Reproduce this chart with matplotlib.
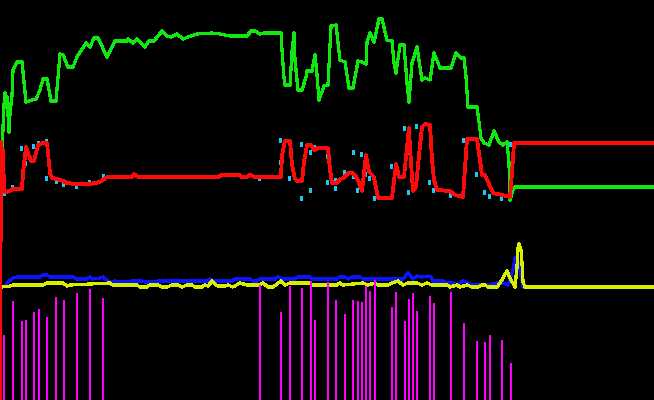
import matplotlib
matplotlib.use("Agg")
import matplotlib.pyplot as plt

# valores (eixo y invertido: 0 = topo, 400 = base)
verde_x = [2, 3, 4, 5, 6, 7, 9, 10, 12, 13, 17, 22, 26, 32, 36, 40, 43, 47, 51, 56, 60, 63, 68, 73, 77, 86, 90, 94, 98,
           107, 115, 127, 128, 133, 137, 145, 149, 154, 162, 167, 171, 177, 183, 188, 197, 212, 220, 230, 247, 251, 255,
           260, 264, 281, 282, 284, 285, 290, 292, 294, 295, 298, 302, 306, 307, 312, 315, 317, 319, 324, 328, 331, 336,
           340, 345, 349, 353, 358, 362, 366, 367, 370, 374, 379, 382, 387, 392, 394, 396, 400, 404, 407, 409, 412, 417,
           422, 425, 430, 434, 440, 451, 456, 461, 464, 466, 468, 477, 479, 481, 484, 489, 494, 499, 503, 507, 509, 510,
           513, 515, 654]
verde_y = [173, 127, 105, 93, 107, 97, 132, 113, 95, 70, 62, 62, 102, 100, 99, 90, 79, 79, 101, 101, 54, 55, 67, 67, 57,
           43, 47, 38, 38, 57, 41, 41, 39, 43, 39, 47, 41, 41, 31, 36, 37, 34, 39, 37, 34, 33, 34, 36, 36, 31, 31, 34, 33,
           33, 50, 78, 85, 85, 52, 33, 60, 90, 90, 77, 71, 71, 55, 75, 100, 86, 85, 26, 25, 60, 62, 88, 88, 61, 62, 64,
           42, 33, 42, 19, 19, 40, 41, 63, 73, 45, 45, 83, 102, 63, 47, 80, 78, 80, 53, 68, 68, 53, 58, 58, 77, 107, 107,
           122, 138, 143, 145, 131, 142, 145, 142, 163, 200, 190, 187, 187]

vermelho_x = [0, 1, 2, 3, 4, 5, 10, 13, 22, 23, 26, 31, 34, 38, 43, 47, 50, 52, 57, 63, 67, 75, 90, 95, 100, 107, 132,
              134, 138, 218, 222, 240, 241, 247, 250, 255, 281, 282, 285, 290, 292, 295, 297, 302, 304, 307, 311, 314,
              318, 328, 330, 332, 337, 340, 344, 348, 353, 357, 362, 366, 369, 374, 378, 392, 396, 399, 404, 408, 409,
              410, 413, 416, 419, 422, 425, 430, 432, 434, 437, 450, 455, 463, 467, 477, 482, 485, 493, 502, 510, 512,
              514, 654]
vermelho_y = [400, 142, 170, 150, 190, 192, 191, 189, 189, 173, 147, 161, 161, 145, 143, 143, 173, 178, 179, 181, 183,
              184, 184, 183, 182, 177, 177, 174, 177, 177, 175, 175, 177, 177, 175, 177, 177, 155, 141, 141, 165, 179,
              181, 181, 162, 145, 145, 150, 148, 148, 170, 183, 183, 179, 178, 173, 173, 178, 191, 155, 172, 177, 198,
              198, 164, 177, 177, 137, 128, 148, 191, 187, 155, 127, 124, 125, 160, 180, 190, 191, 195, 197, 139, 139,
              175, 175, 193, 195, 197, 173, 143, 143]

azul_x = [5, 8, 13, 17, 40, 43, 47, 50, 73, 77, 87, 90, 93, 100, 103, 109, 115, 122, 128, 132, 142, 145, 155, 158, 207,
          210, 215, 232, 235, 250, 253, 257, 260, 275, 278, 282, 295, 298, 310, 313, 337, 340, 345, 348, 352, 360, 363,
          403, 408, 413, 417, 422, 428, 431, 433, 443, 447, 453, 457, 463, 468, 473, 488, 497, 503, 508, 513, 515, 518,
          522, 523, 654]
azul_y = [286, 282, 278, 277, 277, 275, 275, 277, 277, 279, 279, 277, 279, 278, 277, 282, 281, 282, 282, 281, 281, 282,
          282, 281, 281, 279, 281, 281, 279, 279, 281, 281, 279, 279, 277, 279, 279, 277, 277, 279, 279, 277, 277, 279,
          277, 277, 279, 279, 273, 279, 276, 277, 276, 277, 281, 281, 283, 283, 285, 281, 283, 285, 285, 283, 283, 285,
          270, 258, 262, 280, 287, 287]

amarelo_x = [2, 10, 13, 43, 47, 63, 67, 70, 110, 113, 137, 140, 147, 150, 158, 162, 167, 172, 178, 182, 187, 192, 195,
             202, 205, 208, 212, 215, 218, 225, 228, 233, 240, 247, 260, 263, 268, 273, 281, 285, 290, 310, 313, 337,
             340, 343, 363, 368, 375, 378, 388, 392, 398, 403, 408, 417, 422, 427, 432, 447, 450, 457, 460, 467, 472,
             478, 482, 485, 488, 497, 500, 507, 510, 515, 517, 518, 519, 521, 522, 523, 525, 654]
amarelo_y = [287, 286, 285, 285, 283, 283, 286, 285, 283, 285, 285, 287, 287, 285, 285, 287, 287, 285, 285, 287, 285,
             285, 287, 287, 285, 286, 281, 284, 286, 286, 285, 287, 283, 285, 285, 283, 287, 287, 281, 285, 283, 283,
             285, 285, 283, 285, 283, 285, 283, 285, 285, 283, 281, 285, 283, 283, 285, 283, 285, 285, 287, 285, 287,
             285, 287, 287, 285, 285, 287, 287, 283, 271, 278, 287, 267, 248, 244, 250, 263, 282, 287, 287]

barras_x = [4, 13, 22, 26, 34, 39, 47, 56, 64, 77, 90, 103, 260, 281, 290, 302, 311, 315, 328, 336, 345, 353, 358, 362,
            366, 370, 375, 392, 396, 405, 409, 413, 417, 430, 434, 451, 464, 477, 485, 490, 502, 511]
barras_topo = [335, 301, 321, 320, 312, 309, 317, 297, 300, 293, 289, 298, 285, 312, 286, 288, 281, 320, 282, 300, 314,
               300, 301, 302, 286, 291, 280, 307, 292, 321, 299, 293, 311, 296, 303, 292, 323, 341, 342, 335, 340, 363]

marcas_x = [4, 12, 21, 25, 33, 38, 46, 46, 56, 63, 76, 89, 103, 259, 280, 280, 289, 301, 301, 310, 310, 314, 327, 327,
            335, 335, 344, 353, 353, 357, 361, 365, 369, 374, 391, 404, 408, 408, 416, 429, 433, 450, 463, 476, 484,
            489, 501, 510]
marcas_y = [193, 187, 148, 163, 146, 143, 141, 178, 181, 184, 186, 182, 176, 178, 140, 162, 178, 144, 198, 152, 190,
            147, 156, 182, 180, 188, 172, 152, 176, 190, 154, 174, 178, 198, 166, 128, 152, 192, 126, 182, 190, 195,
            140, 174, 192, 196, 198, 144]

fig = plt.figure(figsize=(6.54, 4.0), dpi=100, facecolor="black")
ax = fig.add_axes([0, 0, 1, 1])
ax.set_facecolor("black")

ax.plot(azul_x, azul_y, color="#0a14ff", lw=1.6, antialiased=False, zorder=2)
ax.plot(amarelo_x, amarelo_y, color="#d8f000", lw=1.6, antialiased=False, zorder=3)
ax.vlines(barras_x, barras_topo, 400, color="#ff00ff", lw=1.45, zorder=4)
ax.vlines(marcas_x, [v - 2 for v in marcas_y], [v + 2 for v in marcas_y], color="#1ec8f0", lw=0.9,
          antialiased=False, zorder=5)
ax.plot(verde_x, verde_y, color="#10e810", lw=1.6, antialiased=False, zorder=6)
ax.plot(vermelho_x, vermelho_y, color="#ff0a0a", lw=2.0, antialiased=False, zorder=7)

ax.set_xlim(0, 654)
ax.set_ylim(400, 0)
ax.set_xticks([])
ax.set_yticks([])
for lado in ax.spines.values():
    lado.set_visible(False)

fig.savefig("out.png", dpi=100, facecolor="black")
